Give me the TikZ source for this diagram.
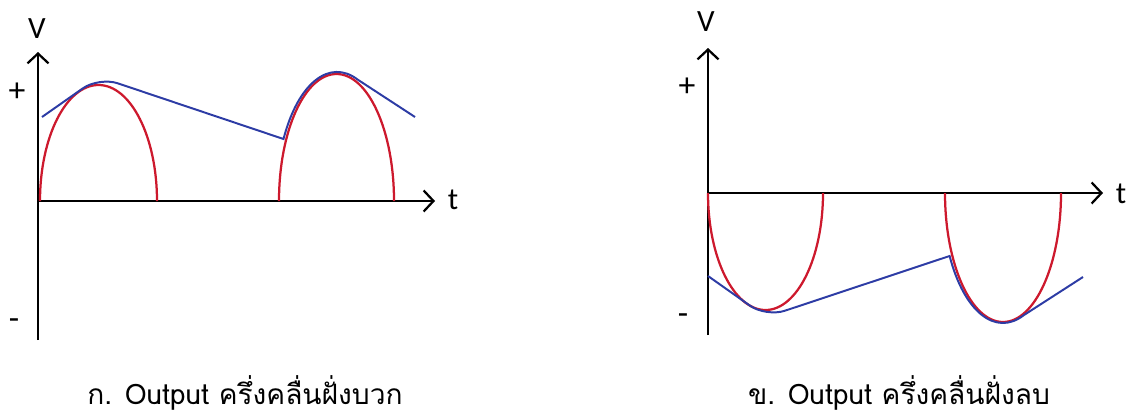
\documentclass[tikz,border=0pt]{standalone}
\usepackage{fontspec}
\setmainfont{Carlito}
\newfontfamily\thaifont[Script=Thai]{Loma}
\usetikzlibrary{arrows.meta}

\definecolor{wavered}{RGB}{205, 25, 45}
\definecolor{rippleblue}{RGB}{45, 60, 165}

\tikzset{
  axis/.style={black, line width=1.8pt, -{Straight Barb[length=7pt, width=15pt, line width=1.6pt]}},
  halfwave/.style={wavered, line width=1.6pt},
  ripple/.style={rippleblue, line width=1.4pt},
  axlabel/.style={font=\fontsize{22}{24}\selectfont, inner sep=0pt},
  signlabel/.style={font=\fontsize{24}{26}\selectfont, inner sep=0pt},
  caption/.style={font=\thaifont\fontsize{20}{23}\selectfont, inner sep=0pt, text depth=0pt, anchor=base}
}

\begin{document}
\begin{tikzpicture}[x=0.025cm, y=-0.025cm]
    \useasboundingbox (0,0) rectangle (1129,416);

    % Positive half wave
    \coordinate (oA) at (38,201);
    \draw[axis] (38,340) -- (38,52);
    \draw[axis] (oA) -- (435,201);
    \node[axlabel] (vA) at (37,29) {V};
    \node[axlabel] (tA) at (453,200) {t};
    \node[signlabel] (plusA) at (17,92) {+};
    \node[signlabel] (minusA) at (14,324) {-};

    \draw[halfwave] (40,201) arc[start angle=180, end angle=360, x radius=58.5, y radius=116];
    \draw[halfwave] (279,201) arc[start angle=180, end angle=360, x radius=57.5, y radius=127];

    \draw[ripple, rounded corners=14pt] (42,117) -- (99,77) [sharp corners] -- (283.5,139)
      arc[start angle=208.7, end angle=290, x radius=61, y radius=129]
      -- (415,117);

    \node[caption] (capA) at (245,404) {ก. Output ครึ่งคลื่นฝั่งบวก};

    % Negative half wave
    \coordinate (oB) at (708,193);
    \draw[axis] (708,335) -- (708,48);
    \draw[axis] (oB) -- (1103,193);
    \node[axlabel] (vB) at (706,22) {V};
    \node[axlabel] (tB) at (1121,194) {t};
    \node[signlabel] (plusB) at (687,87) {+};
    \node[signlabel] (minusB) at (683,319) {-};

    \draw[halfwave] (708,193) arc[start angle=180, end angle=0, x radius=57.5, y radius=117];
    \draw[halfwave] (945,193) arc[start angle=180, end angle=0, x radius=58, y radius=129];

    \draw[ripple, rounded corners=14pt] (708,276) -- (766,317) [sharp corners] -- (949.6,256)
      arc[start angle=151, end angle=70, x radius=61, y radius=130]
      -- (1083,277);

    \node[caption] (capB) at (899,404) {ข. Output ครึ่งคลื่นฝั่งลบ};
\end{tikzpicture}
\end{document}
